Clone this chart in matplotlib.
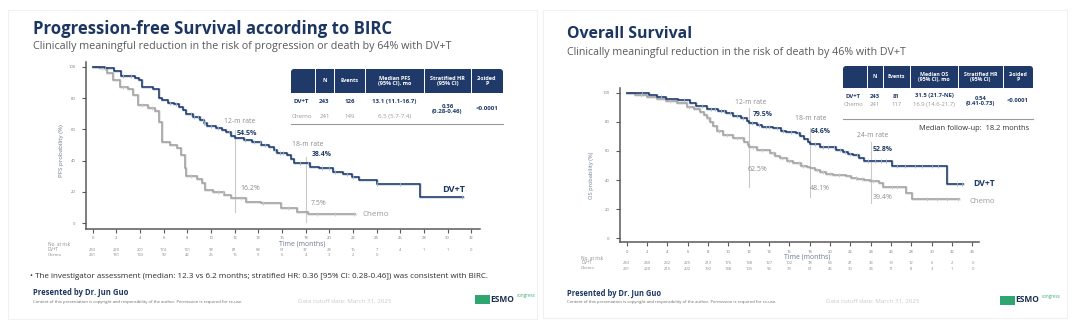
import matplotlib
matplotlib.use('Agg')
import matplotlib.pyplot as plt
from matplotlib.patches import Rectangle, FancyBboxPatch
from matplotlib.transforms import blended_transform_factory
import numpy as np

# ---------------- data ----------------
pfs_months = [0, 2, 4, 6, 8, 10, 12, 14, 16, 18, 20, 22, 24, 26, 28, 30, 32]
os_months = [0, 2, 4, 6, 8, 10, 12, 14, 16, 18, 20, 22, 24, 26, 28, 30, 32, 34]

pfs_dvt_t = [0, 1.0, 1.8, 2.4, 3.6, 3.9, 4.2, 5.1, 5.6, 5.9, 6.4, 6.9, 7.3, 7.6, 7.9, 8.5, 9.1,
             9.4, 9.7, 10.4, 10.9, 11.3, 11.7, 12.0, 12.8, 13.5, 14.2, 14.9, 15.3, 15.6, 16.4,
             16.8, 17.0, 18.4, 19.1, 20.3, 21.2, 21.9, 22.5, 24.0, 27.7, 31.3]
pfs_dvt_p = [100, 99, 97.5, 94, 93, 91.5, 87, 85.5, 80, 78.5, 77, 76, 74.5, 72.5, 69.5, 68, 66,
             64, 62, 61, 59.5, 58, 55.5, 54.5, 53.5, 51.7, 50, 49, 46.5, 45, 43.5,
             41, 38.4, 36, 35, 33, 31.2, 29.8, 27.6, 25.3, 17, 17]
pfs_dvt_cens = [1.0, 2.6, 3.2, 6.5, 7.0, 8.3, 8.6, 8.9, 9.3, 9.4, 9.5, 10.0, 10.6, 11.5, 12.9,
                13.6, 14.1, 14.6, 15.4, 15.8, 16.1, 17.5, 18.2, 19.4, 20.0, 20.5, 21.5, 22.0,
                24.0, 26.0, 31.2]

pfs_chemo_t = [0, 0.5, 1.2, 1.7, 2.3, 3.0, 3.4, 3.8, 4.7, 5.3, 5.6, 5.9, 6.5, 7.1, 7.5, 7.8,
               7.9, 8.8, 9.2, 9.5, 10.2, 11.1, 11.7, 13.0, 14.2, 15.9, 17.3, 18.2, 22.2]
pfs_chemo_p = [100, 99, 95.8, 91.5, 87.3, 86, 82, 75.5, 73.6, 71.5, 65, 52, 50, 48, 43.6, 35,
               30, 28.3, 25.5, 21.3, 19.8, 18, 16.2, 13.8, 12.8, 9.6, 7.5, 6.0, 6.0]
pfs_chemo_cens = [0.8, 2.6, 4.2, 5.0, 8.3, 10.6, 11.0, 12.5, 14.4, 16.5, 19.0, 20.5, 22.1]

os_dvt_t = [0, 1.2, 2.2, 3.0, 3.9, 5.0, 6.2, 6.8, 7.9, 9.0, 9.8, 10.5, 11.2, 11.8, 12.0, 12.8,
            13.3, 14.4, 15.2, 15.7, 16.6, 17.0, 17.4, 17.8, 18.0, 19.0, 20.0, 20.6, 21.3, 21.8,
            22.3, 22.8, 23.3, 26.1, 31.5, 33.1]
os_dvt_p = [100, 99.5, 98.5, 97.3, 96, 94.8, 93, 91, 89, 87.5, 86, 84, 82.5, 80.5, 79.5, 78,
            76.5, 75.5, 74, 73, 72, 70.5, 68, 66, 64.6, 63, 62.5, 60.7, 59, 58,
            57, 55, 52.8, 49.6, 37.3, 37.3]
os_dvt_cens = [1.5, 3.4, 5.6, 7.4, 8.3, 8.7, 9.3, 9.6, 10.2, 10.8, 11.4, 12.3, 13.0, 13.7, 14.0,
               14.8, 15.4, 16.2, 16.8, 18.5, 19.3, 19.8, 20.4, 21.0, 21.5, 22.0, 22.6, 23.7, 24.4,
               25.0, 25.5, 26.6, 27.4, 28.3, 29.0, 30.0, 30.6, 32.5, 33.0]

os_chemo_t = [0, 0.8, 2.0, 3.0, 3.9, 4.9, 5.9, 6.6, 7.2, 7.6, 7.9, 8.2, 8.5, 8.9, 9.5, 10.5,
              11.5, 11.9, 12.0, 12.8, 14.1, 14.6, 15.1, 15.8, 16.4, 17.1, 17.7, 18.0, 18.5, 19.0,
              19.6, 20.3, 21.6, 22.1, 22.6, 23.3, 23.9, 24.8, 25.2, 27.5, 28.1, 32.7]
os_chemo_p = [100, 98.5, 97.3, 96, 94.5, 92.7, 90.4, 88.5, 87, 85, 82.4, 80, 77, 74, 71, 68.7,
              66.4, 64, 62.5, 60.6, 58.3, 56.5, 55, 53, 51.5, 50, 48.7, 48.1, 47, 45.8,
              44.5, 43.5, 42.8, 41.5, 41.0, 40, 39.4, 38, 35.4, 30.8, 26.9, 26.9]
os_chemo_cens = [1.4, 4.3, 6.1, 8.0, 9.1, 9.9, 10.8, 11.3, 12.4, 13.3, 14.4, 15.3, 16.0, 16.9,
                 17.3, 18.7, 19.3, 20.0, 20.9, 22.5, 23.1, 24.2, 26.1, 26.6, 29.5, 30.5, 31.5, 32.6]

pfs_risk_dvt = [243, 220, 201, 174, 141, 98, 81, 68, 51, 37, 28, 16, 7, 4, 1, 1, 0]
pfs_risk_chemo = [241, 181, 143, 90, 42, 25, 15, 9, 6, 4, 3, 2, 0]
os_risk_dvt = [243, 240, 232, 225, 213, 176, 148, 127, 102, 78, 64, 41, 33, 19, 12, 6, 2, 0]
os_risk_chemo = [241, 220, 215, 202, 192, 148, 105, 93, 73, 61, 45, 30, 24, 11, 8, 3, 1, 0]

pfs_landmarks = [12, 18]
pfs_rates_dvt = ['54.5%', '38.4%']
pfs_rates_chemo = ['16.2%', '7.5%']
os_landmarks = [12, 18, 24]
os_rates_dvt = ['79.5%', '64.6%', '52.8%']
os_rates_chemo = ['62.5%', '48.1%', '39.4%']

pfs_headers = ['', 'N', 'Events', 'Median PFS\n(95% CI), mo', 'Stratified HR\n(95% CI)', '2-sided\nP']
pfs_row_dvt = ['DV+T', '243', '126', '13.1 (11.1-16.7)']
pfs_row_chemo = ['Chemo', '241', '149', '6.5 (5.7-7.4)']
pfs_hr = '0.36\n(0.28-0.46)'
os_headers = ['', 'N', 'Events', 'Median OS\n(95% CI), mo', 'Stratified HR\n(95% CI)', '2-sided\nP']
os_row_dvt = ['DV+T', '243', '81', '31.5 (21.7-NE)']
os_row_chemo = ['Chemo', '241', '117', '16.9 (14.6-21.7)']
os_hr = '0.54\n(0.41-0.73)'
p_value = '<0.0001'

# ---------------- figure ----------------
W, H = 1080, 325
plt.rcParams['font.family'] = ['Open Sans', 'DejaVu Sans']
fig = plt.figure(figsize=(W / 100, H / 100), dpi=100)
fig.patch.set_facecolor('white')
R = fig.canvas.get_renderer()

NAVY = '#1f3a68'
TITLE = '#1c3661'
TXTGRAY = '#8c8c8c'


def fit(t, width):
    rot = t.get_rotation()
    t.set_rotation(0)
    bb = t.get_window_extent(R)
    t.set_fontsize(t.get_fontsize() * width / bb.width)
    t.set_rotation(rot)
    return t


def ftext(x, y, s, width=None, size=8, ha='left', va='center', **kw):
    t = fig.text(x / W, 1 - y / H, s, fontsize=size, ha=ha, va=va, **kw)
    if width:
        fit(t, width)
    return t


def px_axes(l, t, r, b, **kw):
    return fig.add_axes([l / W, 1 - b / H, (r - l) / W, (b - t) / H], **kw)


# background layer for panels / table decorations
bg = fig.add_axes([0, 0, 1, 1], zorder=-5)
bg.set_xlim(0, W)
bg.set_ylim(H, 0)
bg.axis('off')
bg.add_patch(Rectangle((8, 10), 529, 309, fill=False, ec='#f1f1f1', lw=0.8))
bg.add_patch(Rectangle((543, 10), 524, 308, fill=False, ec='#f1f1f1', lw=0.8))


def step_val(ts, ps, q):
    idx = np.searchsorted(np.asarray(ts), np.asarray(q), side='right') - 1
    return np.asarray(ps)[idx]


def km_panel(box, t0px, pxmo, p0px, pxpct, months):
    l, t, r, b = box
    ax = px_axes(l, t, r, b)
    ax.set_xlim((l - t0px) / pxmo, (r - t0px) / pxmo)
    ax.set_ylim((p0px - b) / pxpct, (p0px - t) / pxpct)
    ax.patch.set_alpha(0)
    for s in ['top', 'right']:
        ax.spines[s].set_visible(False)
    for s in ['left', 'bottom']:
        ax.spines[s].set_color('#5a5a5a')
        ax.spines[s].set_linewidth(1.1)
    ax.set_xticks(months)
    ax.set_yticks([0, 20, 40, 60, 80, 100])
    ax.tick_params(axis='both', length=2.6, width=0.8, color='#5a5a5a',
                   labelsize=3.0, labelcolor='#777777')
    ax.tick_params(axis='y', pad=5)
    ax.tick_params(axis='x', pad=3)
    return ax


def draw_curve(ax, ts, ps, cens, color, halo):
    ax.step(ts, ps, where='post', color=halo, lw=2.0, alpha=0.45, zorder=2)
    ax.step(ts, ps, where='post', color=color, lw=1.15, zorder=3)
    ax.plot(cens, step_val(ts, ps, cens), ls='none', marker='|', ms=3.2, mew=0.6,
            color=halo, zorder=3)


def at_risk(ax, months, dvt, chemo, y_dvt, y_chemo, size=3.0):
    tr = blended_transform_factory(ax.transData, fig.transFigure)
    for m, v in zip(months, dvt):
        ax.text(m, 1 - y_dvt / H, str(v), transform=tr, ha='center', va='center',
                fontsize=size, color='#8a8a8a', clip_on=False)
    for m, v in zip(months, chemo):
        ax.text(m, 1 - y_chemo / H, str(v), transform=tr, ha='center', va='center',
                fontsize=size, color='#8a8a8a', clip_on=False)


def lab(ax, x, y, s, size, width=None, **kw):
    t = ax.text(x, y, s, fontsize=size, ha='left', va='center', clip_on=False, **kw)
    if width:
        fit(t, width)
    return t


def table(bounds, ytop, ybot, headers, row1, row2, hr, y1, y2, yhr, yline, hsize, rsize):
    x0, x1 = bounds[0], bounds[-1]
    bg.add_patch(FancyBboxPatch((x0, ytop), x1 - x0, ybot - ytop,
                                boxstyle='round,pad=0,rounding_size=3', fc=NAVY, ec='none'))
    bg.add_patch(Rectangle((x0, ytop + 4), x1 - x0, ybot - ytop - 4, fc=NAVY, ec='none'))
    for xb in bounds[1:-1]:
        bg.plot([xb, xb], [ytop, ybot], color='white', lw=0.7)
    for i, h in enumerate(headers):
        if h:
            cx = (bounds[i] + bounds[i + 1]) / 2
            ftext(cx, (ytop + ybot) / 2, h, size=hsize, ha='center', color='white',
                  fontweight='bold', linespacing=1.0)
    for i, (a, c) in enumerate(zip(row1, row2)):
        if i == 0:
            ftext(bounds[0] + 2, y1, a, size=rsize, color=NAVY, fontweight='bold')
            ftext(bounds[0] + 1, y2, c, size=rsize, color='#999999')
        else:
            cx = (bounds[i] + bounds[i + 1]) / 2
            ftext(cx, y1, a, size=rsize, ha='center', color=NAVY, fontweight='bold')
            ftext(cx, y2, c, size=rsize, ha='center', color='#999999')
    ftext((bounds[4] + bounds[5]) / 2, yhr, hr, size=rsize, ha='center', color=NAVY,
          fontweight='bold', linespacing=1.05)
    ftext((bounds[5] + bounds[6]) / 2, yhr - 0.5, p_value, size=rsize, ha='center', color=NAVY,
          fontweight='bold')
    bg.plot([x0, x1], [yline, yline], color='#9a9a9a', lw=0.8)


def esmo(x, y):
    bg.add_patch(Rectangle((x, y - 4), 15, 8.5, fc='#2fa66f', ec='none'))
    ftext(x + 15.5, y, 'ESMO', width=24, size=7, color='#1c3050', fontweight='bold')
    ftext(x + 42, y - 3.5, 'congress', width=19, size=3, color='#3aa86f')


# ================= LEFT PANEL (PFS) =================
ftext(33, 29, 'Progression-free Survival according to BIRC', width=360, size=14,
      color=TITLE, fontweight='bold')
ftext(33, 46, 'Clinically meaningful reduction in the risk of progression or death by 64% with DV+T',
      width=423, size=8, color='#5a5a5a')

axL = km_panel((86, 62, 480, 228.5), 92.7, 11.83, 223.3, 1.566, pfs_months)
for m in pfs_landmarks:
    axL.plot([m, m], [7, 59.5] if m == 12 else [1, 42.5], color='#c9c9c9', lw=0.8, zorder=1)
draw_curve(axL, pfs_chemo_t, pfs_chemo_p, pfs_chemo_cens, '#a2a2a2', '#c8c8c8')
draw_curve(axL, pfs_dvt_t, pfs_dvt_p, pfs_dvt_cens, NAVY, '#9fb6d3')

lab(axL, 11.1, 65, '12-m rate', 4.5, width=31, color=TXTGRAY)
lab(axL, 12.17, 57.5, pfs_rates_dvt[0], 5, width=21, color=NAVY, fontweight='bold')
lab(axL, 12.45, 22.3, pfs_rates_chemo[0], 5, width=20, color=TXTGRAY)
lab(axL, 16.85, 50.4, '18-m rate', 4.5, width=31, color=TXTGRAY)
lab(axL, 18.5, 44, pfs_rates_dvt[1], 5, width=20, color=NAVY, fontweight='bold')
lab(axL, 18.4, 12.8, pfs_rates_chemo[1], 5, width=16, color=TXTGRAY)
lab(axL, 29.5, 21.5, 'DV+T', 6, width=23, color=NAVY, fontweight='bold')
lab(axL, 22.8, 5.5, 'Chemo', 6, width=27, color='#999999')

ftext(302, 244, 'Time (months)', width=47, size=5, ha='center', color='#6b7a90')
ftext(48, 244.5, 'No. at risk', width=22, size=3, color='#8a8a8a')
ftext(48, 249.5, 'DV+T', width=11, size=3, color='#8a8a8a')
ftext(48, 254.5, 'Chemo', width=14, size=3, color='#8a8a8a')
at_risk(axL, pfs_months, pfs_risk_dvt, pfs_risk_chemo, 250, 255)
ftext(62, 151, 'PFS probability (%)', width=52, size=4, ha='center', rotation=90, color='#6b7a90')

table([291, 315, 334, 365, 424, 471, 503], 69, 93, pfs_headers, pfs_row_dvt, pfs_row_chemo,
      pfs_hr, 101.5, 116.5, 109, 124, 4.0, 4.4)

ftext(30, 277, '\u2022 The investigator assessment (median: 12.3 vs 6.2 months; stratified HR: 0.36 '
      '[95% CI: 0.28-0.46]) was consistent with BIRC.', width=461, size=6, color='#2b2b2b')
ftext(33, 292, 'Presented by Dr. Jun Guo', width=94, size=6, color=TITLE, fontweight='bold')
ftext(33, 301.5, 'Content of this presentation is copyright and responsibility of the author. '
      'Permission is required for re-use.', width=208, size=2.5, color='#666666')
ftext(298, 301, 'Data cutoff date: March 31, 2025', width=93, size=4, color='#c9c9c9')
esmo(475, 299)

# ================= RIGHT PANEL (OS) =================
ftext(567.5, 34, 'Overall Survival', width=126, size=14, color=TITLE, fontweight='bold')
ftext(567.5, 52, 'Clinically meaningful reduction in the risk of death by 46% with DV+T',
      width=340, size=8, color='#5a5a5a')

axR = km_panel((620, 88, 979, 242), 626.7, 10.17, 238.3, 1.456, os_months)
os_vspan = [(35.4, 89.3), (28.6, 75.5), (24, 66.4)]
for m, (lo, hi) in zip(os_landmarks, os_vspan):
    axR.plot([m, m], [lo, hi], color='#c9c9c9', lw=0.8, zorder=1)
draw_curve(axR, os_chemo_t, os_chemo_p, os_chemo_cens, '#a2a2a2', '#c8c8c8')
draw_curve(axR, os_dvt_t, os_dvt_p, os_dvt_cens, NAVY, '#9fb6d3')

os_rate_lab = [(10.65, 93.1), (16.56, 82.4), (22.64, 70.3)]
os_dvt_lab = [(12.42, 84.7), (18.06, 73.2), (24.22, 61.3)]
os_chemo_lab = [(11.93, 47.4), (17.96, 34.3), (24.22, 28.2)]
for i, m in enumerate(os_landmarks):
    lab(axR, *os_rate_lab[i], f'{m}-m rate', 4.5, width=31, color=TXTGRAY)
    lab(axR, *os_dvt_lab[i], os_rates_dvt[i], 5, width=20, color=NAVY, fontweight='bold')
    lab(axR, *os_chemo_lab[i], os_rates_chemo[i], 5, width=20, color=TXTGRAY)
lab(axR, 34.05, 37.3, 'DV+T', 6, width=22, color=NAVY, fontweight='bold')
lab(axR, 33.7, 25.2, 'Chemo', 6, width=26, color='#999999')

ftext(807, 257, 'Time (months)', width=47, size=5, ha='center', color='#6b7a90')
ftext(581, 258, 'No. at risk', width=22, size=3, color='#8a8a8a')
ftext(581, 263, 'DV+T', width=11, size=3, color='#8a8a8a')
ftext(581, 268, 'Chemo', width=14, size=3, color='#8a8a8a')
at_risk(axR, os_months, os_risk_dvt, os_risk_chemo, 263.5, 268.5)
ftext(591, 175, 'OS probability (%)', width=46, size=4, ha='center', rotation=90, color='#6b7a90')

table([843, 867, 883, 910, 958, 1003, 1033], 66, 88, os_headers, os_row_dvt, os_row_chemo,
      os_hr, 96, 104.5, 101, 119, 3.8, 4.2)
ftext(1029, 128, 'Median follow-up:  18.2 months', width=112, size=5, ha='right', color='#333333')

ftext(567.5, 293, 'Presented by Dr. Jun Guo', width=93, size=6, color=TITLE, fontweight='bold')
ftext(567.5, 301.5, 'Content of this presentation is copyright and responsibility of the author. '
      'Permission is required for re-use.', width=204, size=2.5, color='#666666')
ftext(826, 301, 'Data cutoff date: March 31, 2025', width=93, size=4, color='#c9c9c9')
esmo(1000, 300)

fig.savefig('out.png', dpi=100, facecolor='white')
